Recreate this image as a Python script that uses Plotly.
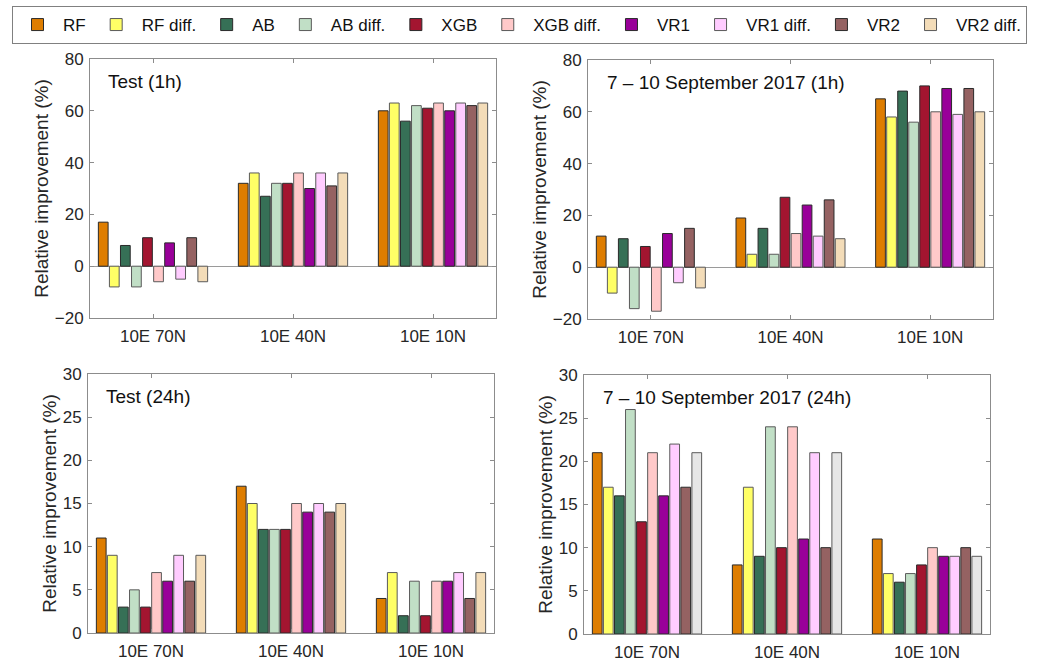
import plotly.graph_objects as go

# ---------------- data ----------------
sites = ["10E 70N", "10E 40N", "10E 10N"]
series = ["RF", "RF diff.", "AB", "AB diff.", "XGB", "XGB diff.", "VR1", "VR1 diff.", "VR2", "VR2 diff."]

# values per series, ordered by site (70N, 40N, 10N)
test_1h = {
    "RF": [17, 32, 60], "RF diff.": [-8, 36, 63],
    "AB": [8, 27, 56], "AB diff.": [-8, 32, 62],
    "XGB": [11, 32, 61], "XGB diff.": [-6, 36, 63],
    "VR1": [9, 30, 60], "VR1 diff.": [-5, 36, 63],
    "VR2": [11, 31, 62], "VR2 diff.": [-6, 36, 63],
}
sept_1h = {
    "RF": [12, 19, 65], "RF diff.": [-10, 5, 58],
    "AB": [11, 15, 68], "AB diff.": [-16, 5, 56],
    "XGB": [8, 27, 70], "XGB diff.": [-17, 13, 60],
    "VR1": [13, 24, 69], "VR1 diff.": [-6, 12, 59],
    "VR2": [15, 26, 69], "VR2 diff.": [-8, 11, 60],
}
test_24h = {
    "RF": [11, 17, 4], "RF diff.": [9, 15, 7],
    "AB": [3, 12, 2], "AB diff.": [5, 12, 6],
    "XGB": [3, 12, 2], "XGB diff.": [7, 15, 6],
    "VR1": [6, 14, 6], "VR1 diff.": [9, 15, 7],
    "VR2": [6, 14, 4], "VR2 diff.": [9, 15, 7],
}
sept_24h = {
    "RF": [21, 8, 11], "RF diff.": [17, 17, 7],
    "AB": [16, 9, 6], "AB diff.": [26, 24, 7],
    "XGB": [13, 10, 8], "XGB diff.": [21, 24, 10],
    "VR1": [16, 11, 9], "VR1 diff.": [22, 21, 9],
    "VR2": [17, 10, 10], "VR2 diff.": [21, 21, 9],
}
panel_titles = ["Test (1h)", "7 \u2013 10 September 2017 (1h)", "Test (24h)", "7 \u2013 10 September 2017 (24h)"]
y_ranges = [[-20, 80], [-20, 80], [0, 30], [0, 30]]
y_dticks = [20, 20, 5, 5]

# ---------------- style ----------------
colors = {
    "RF": "#DE7D00", "RF diff.": "#FFFF66",
    "AB": "#367056", "AB diff.": "#C1DFC6",
    "XGB": "#A31530", "XGB diff.": "#FFC9C9",
    "VR1": "#990099", "VR1 diff.": "#FFCCFF",
    "VR2": "#956262", "VR2 diff.": "#F3DCB8",
}
edge = {s: ("#5a5a5a" if s.endswith("diff.") else "#2a2a2a") for s in series}
# the last panel draws VR2 diff. in light grey
panel_override = {3: {"VR2 diff.": "#E6E6E6"}}

W, H = 1045, 661
# plot areas in pixels: (left, right, top, bottom)
boxes = [(90, 496, 59, 318), (588, 993, 60, 319), (88, 494, 374, 633), (584, 990, 375, 634)]

FONT = "Liberation Sans"
AXC = "#8c8c8c"
TXT = "#262626"

fig = go.Figure()
panels = [test_1h, sept_1h, test_24h, sept_24h]
layout = {}
for p, data in enumerate(panels):
    sfx = "" if p == 0 else str(p + 1)
    for s in series:
        col = panel_override.get(p, {}).get(s, colors[s])
        fig.add_trace(go.Bar(
            x=sites, y=data[s], name=s,
            marker=dict(color=col, line=dict(color=edge[s], width=1)),
            xaxis="x" + sfx, yaxis="y" + sfx,
            showlegend=(p == 0), legendgroup=s,
        ))
    l, r, t, b = boxes[p]
    layout["xaxis" + sfx] = dict(
        domain=[l / W, r / W], anchor="y" + sfx,
        type="category", range=[-0.45, 2.45],
        showline=True, linecolor=AXC, linewidth=1, mirror="ticks",
        ticks="inside", ticklen=4, tickcolor=AXC, ticklabelstandoff=3,
        tickfont=dict(size=17, color=TXT, family=FONT),
        showgrid=False, zeroline=False,
    )
    layout["yaxis" + sfx] = dict(
        domain=[1 - b / H, 1 - t / H], anchor="x" + sfx,
        range=y_ranges[p], dtick=y_dticks[p],
        showline=True, linecolor=AXC, linewidth=1, mirror="ticks",
        ticks="inside", ticklen=4, tickcolor=AXC, ticklabelstandoff=2,
        tickfont=dict(size=17, color=TXT, family=FONT),
        showgrid=False,
        zeroline=(y_ranges[p][0] < 0), zerolinecolor="#9a9a9a", zerolinewidth=1,
        title=dict(text="Relative improvement (%)", font=dict(size=19, color=TXT, family=FONT), standoff=1),
    )
    fig.add_annotation(
        text=panel_titles[p], xref="x" + sfx + " domain", yref="y" + sfx + " domain",
        x=(16 if p % 2 == 0 else 17) / (r - l), y=1 - 22 / (b - t),
        xanchor="left", yanchor="middle", showarrow=False,
        font=dict(size=19, color="#111111", family=FONT),
    )

fig.update_layout(
    **layout,
    width=W, height=H,
    margin=dict(l=0, r=0, t=0, b=0, autoexpand=False),
    paper_bgcolor="white", plot_bgcolor="white",
    barmode="group", bargap=0.21, bargroupgap=0.12,
    font=dict(family=FONT, color=TXT),
    legend=dict(
        orientation="h", x=12 / W, y=1 - 6 / H, xanchor="left", yanchor="top",
        xref="container", yref="container",
        bordercolor="#808080", borderwidth=1, bgcolor="white",
        font=dict(size=17, color="#111111", family=FONT),
        itemwidth=41,
        itemclick=False, itemdoubleclick=False,
    ),
)

fig.write_html("out.html", config={"displayModeBar": False},
               post_script="document.body.style.margin='0';")
